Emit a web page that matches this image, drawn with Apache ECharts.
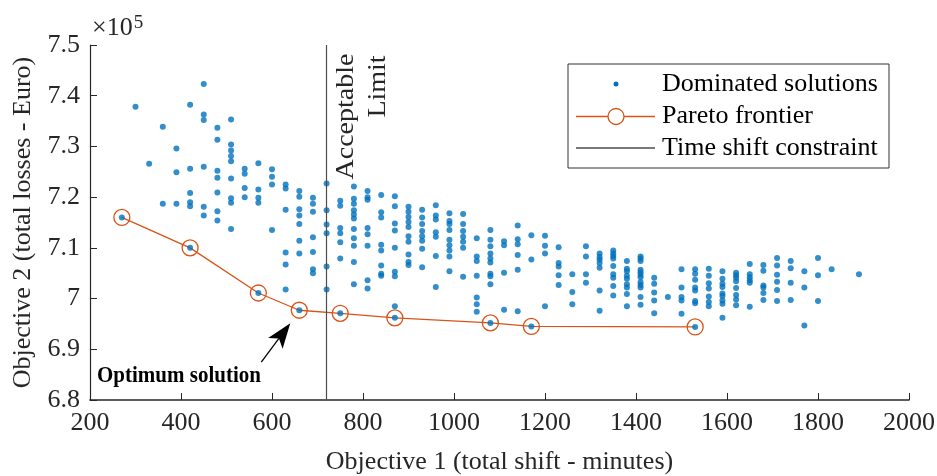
<!DOCTYPE html>
<html>
<head>
<meta charset="utf-8">
<script src="https://cdn.jsdelivr.net/npm/echarts@6/dist/echarts.min.js"></script>
<style>
  html, body { margin: 0; padding: 0; background: #ffffff; }
  #chart { width: 937px; height: 476px; }
</style>
</head>
<body>
<div id="chart"></div>
<script>
// Objective 1 (total shift, minutes) of each column of dominated solutions
const shiftColumns = [
  300, 330, 360, 390, 420, 450, 480, 510, 540, 570, 600, 630, 660, 690, 720,
  750, 780, 810, 840, 870, 900, 930, 960, 990, 1020, 1050, 1080, 1110, 1140,
  1170, 1200, 1230, 1260, 1290, 1320, 1350, 1380, 1410, 1440, 1470, 1500,
  1530, 1560, 1590, 1620, 1650, 1680, 1710, 1740, 1770, 1800, 1830, 1890
];

// Objective 2 (total losses, x10^5 Euro) of the dominated solutions in each column
const lossColumns = [
  [7.378],
  [7.266],
  [7.339, 7.187],
  [7.296, 7.249, 7.187],
  [7.382, 7.256, 7.208, 7.190, 7.182],
  [7.423, 7.363, 7.352, 7.260, 7.181, 7.164],
  [7.337, 7.313, 7.252, 7.238, 7.209, 7.172, 7.154],
  [7.353, 7.304, 7.292, 7.281, 7.271, 7.237, 7.198, 7.189, 7.137],
  [7.256, 7.246, 7.218, 7.200],
  [7.267, 7.215, 7.199, 7.189],
  [7.255, 7.240, 7.225, 7.135],
  [7.225, 7.217, 7.175, 7.091, 7.067, 7.018],
  [7.212, 7.201, 7.176, 7.164, 7.147, 7.114, 7.089],
  [7.199, 7.187, 7.171, 7.121, 7.092, 7.058, 7.050],
  [7.227, 7.174, 7.146, 7.129, 7.063, 7.018],
  [7.193, 7.183, 7.139, 7.129, 7.111, 7.079],
  [7.221, 7.197, 7.187, 7.174, 7.166, 7.158, 7.137, 7.119, 7.104, 7.072, 7.028],
  [7.212, 7.200, 7.195, 7.139, 7.127, 7.104, 7.036, 7.020],
  [7.204, 7.170, 7.160, 7.106, 7.095, 7.065, 7.049, 7.045],
  [7.202, 7.182, 7.148, 7.134, 7.100, 7.053, 7.044, 6.985],
  [7.181, 7.171, 7.161, 7.151, 7.141, 7.123, 7.112, 7.087, 7.072, 7.066],
  [7.175, 7.160, 7.147, 7.133, 7.123, 7.114, 7.098, 7.062],
  [7.184, 7.164, 7.156, 7.131, 7.122, 7.084, 7.023],
  [7.168, 7.153, 7.147, 7.135, 7.116, 7.105, 7.095, 7.083, 7.054],
  [7.167, 7.147, 7.133, 7.122, 7.112, 7.100, 7.043],
  [7.119, 7.083, 7.074, 7.045, 7.002, 6.989, 6.974],
  [7.135, 7.116, 7.103, 7.089, 7.079, 7.071, 7.049, 7.044, 7.028],
  [7.113, 7.105, 7.051, 6.978],
  [7.144, 7.117, 7.107, 7.086, 7.057, 6.975],
  [7.125, 7.077],
  [7.124, 7.104, 7.089, 6.985],
  [7.101, 7.070, 7.063, 7.046, 7.027],
  [7.048, 7.013, 6.989],
  [7.103, 7.083, 7.048, 7.031],
  [7.089, 7.082, 7.077, 7.070, 7.061, 7.016, 6.976],
  [7.095, 7.089, 7.084, 7.079, 7.064, 7.048, 7.041, 7.025, 7.006],
  [7.074, 7.059, 7.054, 7.045, 7.039, 7.028, 7.022, 7.009, 6.985],
  [7.083, 7.079, 7.074, 7.057, 7.052, 7.047, 7.042, 7.032, 7.027, 7.022, 7.003, 6.988],
  [7.041, 7.029, 7.012, 6.996, 6.971],
  [7.003],
  [7.058, 7.022, 7.003, 6.996, 6.970],
  [7.058, 7.049, 7.037, 7.022, 7.016, 6.995, 6.991],
  [7.059, 7.045, 7.030, 7.020, 7.004, 6.993, 6.985],
  [7.054, 7.039, 7.029, 7.023, 7.010, 7.005, 6.996, 6.990, 6.962],
  [7.051, 7.046, 7.041, 7.034, 7.021, 7.007, 6.998, 6.987],
  [7.068, 7.048, 7.042, 7.036, 7.031, 6.984],
  [7.066, 7.055, 7.026, 7.022, 7.011, 6.997],
  [7.080, 7.065, 7.047, 7.033, 7.017, 6.995],
  [7.074, 7.060, 7.031, 6.997],
  [7.054, 7.022, 6.947],
  [7.080, 7.046, 6.995],
  [7.058],
  [7.048]
];

// Pareto frontier: total shift (minutes) and total losses (x10^5 Euro)
const paretoShift = [270, 420, 570, 660, 750, 870, 1080, 1170, 1530];
const paretoLoss  = [7.160, 7.100, 7.011, 6.977, 6.971, 6.962, 6.952, 6.945, 6.944];

// Maximum acceptable time shift (minutes)
const constraintShift = 720;

// Index of the optimum solution on the Pareto frontier
const optimumIndex = 3;

// Axis ranges and tick steps
const shiftAxis = { min: 200, max: 2000, step: 200 };
const lossAxis  = { min: 6.8, max: 7.5, step: 0.1 };

const legendNames = ['Dominated solutions', 'Pareto frontier', 'Time shift constraint'];

const SERIF = '"Liberation Serif", "Times New Roman", Times, serif';
const INK = '#262626';
const BLUE = '#0072BD';
const ORANGE = '#D95319';
const GREY = '#4d4d4d';

const dominated = [];
shiftColumns.forEach((x, i) => {
  lossColumns[i].forEach(y => dominated.push([x, y]));
});
const pareto = paretoShift.map((x, i) => [x, paretoLoss[i]]);

const chart = echarts.init(document.getElementById('chart'), null, { renderer: 'canvas' });

const option = {
  animation: false,
  backgroundColor: '#ffffff',
  grid: { left: 90, right: 28, top: 45, bottom: 76, containLabel: false, outerBoundsMode: 'none' },
  xAxis: {
    type: 'value',
    min: shiftAxis.min,
    max: shiftAxis.max,
    interval: shiftAxis.step,
    name: 'Objective 1 (total shift - minutes)',
    nameLocation: 'middle',
    nameGap: 49,
    nameTextStyle: { fontFamily: SERIF, fontSize: 26, color: INK },
    axisLine: { lineStyle: { color: INK, width: 1.6 } },
    axisTick: { inside: true, length: 7, lineStyle: { color: INK, width: 1 } },
    axisLabel: { fontFamily: SERIF, fontSize: 26, color: INK, margin: 10, formatter: v => String(v) },
    splitLine: { show: false }
  },
  yAxis: {
    type: 'value',
    min: lossAxis.min,
    max: lossAxis.max,
    interval: lossAxis.step,
    name: 'Objective 2 (total losses - Euro)',
    nameLocation: 'middle',
    nameGap: 54,
    nameTextStyle: { fontFamily: SERIF, fontSize: 26, color: INK },
    axisLine: { lineStyle: { color: INK, width: 1.2 } },
    axisTick: { inside: true, length: 7, lineStyle: { color: INK, width: 1 } },
    axisLabel: {
      fontFamily: SERIF, fontSize: 26, color: INK, margin: 10,
      formatter: v => String(+v.toFixed(1))
    },
    splitLine: { show: false }
  },
  series: [
    {
      name: legendNames[2],
      type: 'line',
      data: [],
      markLine: {
        silent: true,
        symbol: ['none', 'none'],
        label: { show: false },
        lineStyle: { color: GREY, width: 1.2, type: 'solid' },
        data: [{ xAxis: constraintShift }]
      }
    },
    {
      name: legendNames[1],
      type: 'line',
      data: pareto,
      symbol: 'circle',
      symbolSize: 16,
      lineStyle: { color: ORANGE, width: 1.3 },
      itemStyle: { color: 'rgba(0,0,0,0)', borderColor: ORANGE, borderWidth: 1.3 },
      z: 3
    },
    {
      name: legendNames[0],
      type: 'scatter',
      data: dominated.concat(pareto),
      symbol: 'circle',
      symbolSize: 6,
      itemStyle: { color: BLUE },
      z: 4
    }
  ],
  graphic: []
};

chart.setOption(option);

// Annotations placed relative to the plotted data
function buildAnnotations() {
  const tip0 = chart.convertToPixel({ gridIndex: 0 }, pareto[optimumIndex]);
  const tip = [tip0[0] - 9, tip0[1] + 13];
  const tail = [tip[0] - 29, tip[1] + 39];
  const dx = tip[0] - tail[0], dy = tip[1] - tail[1];
  const len = Math.hypot(dx, dy);
  const ux = dx / len, uy = dy / len;
  const nx = -uy, ny = ux;
  const headLen = 25, halfW = 9, notch = 19;
  const base = [tip[0] - headLen * ux, tip[1] - headLen * uy];
  const back = [tip[0] - notch * ux, tip[1] - notch * uy];

  const topX = chart.convertToPixel({ gridIndex: 0 }, [constraintShift, lossAxis.max]);

  const legendX = 568, legendY = 64, legendW = 321, legendH = 104;
  const rowY = [84, 116.5, 148];
  const iconL = 576, iconR = 655, iconC = 616, textX = 662;

  return [
    // arrow pointing at the optimum solution
    { type: 'line', shape: { x1: tail[0], y1: tail[1], x2: back[0], y2: back[1] },
      style: { stroke: '#000', lineWidth: 1.3 }, z: 10 },
    { type: 'polygon', shape: { points: [
        tip,
        [base[0] + halfW * nx, base[1] + halfW * ny],
        back,
        [base[0] - halfW * nx, base[1] - halfW * ny]
      ] }, style: { fill: '#000' }, z: 10 },
    { type: 'text', x: 97, y: 376, scaleY: 1.1,
      style: { text: 'Optimum solution', fontFamily: SERIF, fontSize: 21, fontWeight: 'bold', fill: '#000',
        align: 'left', verticalAlign: 'middle' }, z: 10 },

    // label of the time shift constraint
    { type: 'text', x: topX[0] + 20, y: 116.5, rotation: Math.PI / 2, scaleX: 1.12,
      style: { text: 'Acceptable', fontFamily: SERIF, fontSize: 25, fill: INK, align: 'center', verticalAlign: 'middle' }, z: 10 },
    { type: 'text', x: topX[0] + 52, y: 86.5, rotation: Math.PI / 2, scaleX: 1.12,
      style: { text: 'Limit', fontFamily: SERIF, fontSize: 25, fill: INK, align: 'center', verticalAlign: 'middle' }, z: 10 },

    // exponent of the loss axis
    { type: 'text', left: 92, top: 14,
      style: { text: '×10{e|5}', fontFamily: SERIF, fontSize: 26, fill: INK,
        rich: { e: { fontFamily: SERIF, fontSize: 19, fill: INK, verticalAlign: 'top', padding: [0, 0, 10, 1] } } }, z: 10 },

    // legend
    { type: 'rect', shape: { x: legendX, y: legendY, width: legendW, height: legendH },
      style: { fill: '#ffffff', stroke: '#333333', lineWidth: 1 }, z: 20 },
    { type: 'circle', shape: { cx: iconC, cy: rowY[0], r: 2.5 }, style: { fill: BLUE }, z: 21 },
    { type: 'line', shape: { x1: iconL, y1: rowY[1], x2: iconR, y2: rowY[1] },
      style: { stroke: ORANGE, lineWidth: 1.3 }, z: 21 },
    { type: 'circle', shape: { cx: iconC, cy: rowY[1], r: 8 },
      style: { fill: '#ffffff', stroke: ORANGE, lineWidth: 1.3 }, z: 21 },
    { type: 'line', shape: { x1: iconL, y1: rowY[2], x2: iconR, y2: rowY[2] },
      style: { stroke: GREY, lineWidth: 1.3 }, z: 21 },
    ...legendNames.map((name, i) => ({
      type: 'text', x: textX, y: rowY[i],
      style: { text: name, fontFamily: SERIF, fontSize: 26, fill: '#000', align: 'left', verticalAlign: 'middle' },
      z: 21
    }))
  ];
}

chart.setOption({ graphic: buildAnnotations() });
</script>
</body>
</html>
